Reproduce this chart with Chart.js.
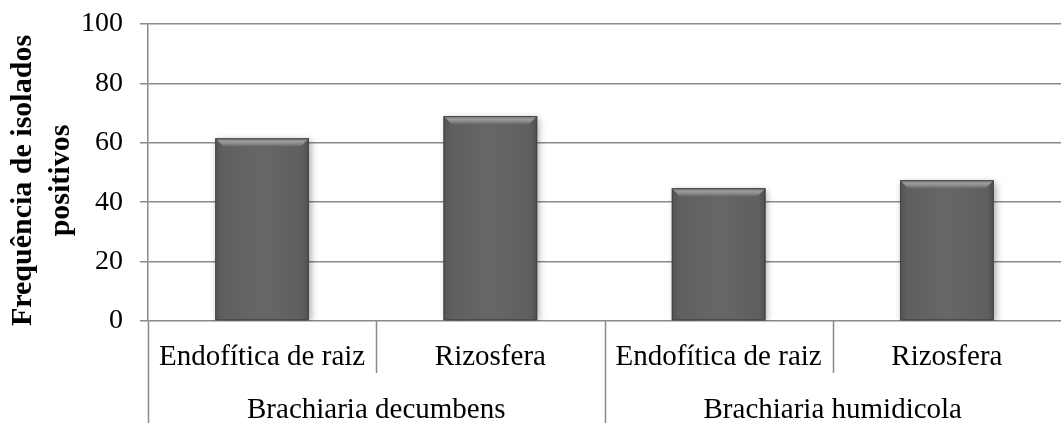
<!DOCTYPE html>
<html>
<head>
<meta charset="utf-8">
<script src="https://cdn.jsdelivr.net/npm/chart.js@4"></script>
<style>
  html, body { margin: 0; padding: 0; background: #fff; }
  #wrap { width: 1062px; height: 423px; }
</style>
</head>
<body>
<div id="wrap"><canvas id="chart"></canvas></div>
<script>
// data
const groups = ['Brachiaria decumbens', 'Brachiaria humidicola'];
const labels = ['Endofítica de raiz', 'Rizosfera', 'Endofítica de raiz', 'Rizosfera'];
const values = [61.5, 69, 44.7, 47.4];
const yTitle = ['Frequência de isolados', 'positivos'];

const SERIF = '"Liberation Serif", "Times New Roman", serif';
const GRID = '#8a8a8a';

// bevel + shading on top of the plain bars
const bevelBars = {
  id: 'bevelBars',
  beforeDatasetsDraw(chart) {
    const ctx = chart.ctx;
    ctx.save();
    ctx.shadowColor = 'rgba(0,0,0,0.35)';
    ctx.shadowBlur = 7;
    ctx.shadowOffsetX = 2;
    ctx.shadowOffsetY = 2;
  },
  afterDatasetsDraw(chart) {
    const ctx = chart.ctx;
    ctx.restore();
    const meta = chart.getDatasetMeta(0);
    meta.data.forEach(bar => {
      const { x, y, width, base } = bar.getProps(['x', 'y', 'width', 'base'], true);
      const l = x - width / 2, r = x + width / 2, h = base - y;
      const b = 8;
      ctx.save();
      // body: slightly darker toward the sides
      let g = ctx.createLinearGradient(l, 0, r, 0);
      g.addColorStop(0, '#525252');
      g.addColorStop(0.07, '#5f5f5f');
      g.addColorStop(0.5, '#676767');
      g.addColorStop(0.93, '#5f5f5f');
      g.addColorStop(1, '#4e4e4e');
      ctx.fillStyle = g;
      ctx.fillRect(l, y, width, h);
      // top bevel
      g = ctx.createLinearGradient(0, y, 0, y + b);
      g.addColorStop(0, '#7c7c7c');
      g.addColorStop(0.45, '#9c9c9c');
      g.addColorStop(1, '#6a6a6a');
      ctx.fillStyle = g;
      ctx.beginPath();
      ctx.moveTo(l, y);
      ctx.lineTo(r, y);
      ctx.lineTo(r - b, y + b);
      ctx.lineTo(l + b, y + b);
      ctx.closePath();
      ctx.fill();
      // outline
      ctx.strokeStyle = '#454545';
      ctx.lineWidth = 1;
      ctx.strokeRect(l + 0.5, y + 0.5, width - 1, h - 1);
      ctx.restore();
    });
  }
};

// two-level category axis and the rotated y title
const multiAxis = {
  id: 'multiAxis',
  afterDraw(chart) {
    const ctx = chart.ctx;
    const xs = chart.scales.x;
    const area = chart.chartArea;
    const n = labels.length;
    const px = i => xs.getPixelForValue(i);
    const half = (px(1) - px(0)) / 2;
    ctx.save();
    ctx.strokeStyle = GRID;
    ctx.lineWidth = 1.5;
    // separators
    for (let k = 0; k < n; k++) {
      const sx = Math.round(px(k) - half) + 0.5;
      const long = k % 2 === 0;
      ctx.beginPath();
      ctx.moveTo(sx, area.bottom);
      ctx.lineTo(sx, long ? chart.height : area.bottom + 52);
      ctx.stroke();
    }
    ctx.fillStyle = '#000';
    ctx.textAlign = 'center';
    ctx.textBaseline = 'middle';
    ctx.font = '29px ' + SERIF;
    labels.forEach((lab, i) => ctx.fillText(lab, px(i), area.bottom + 36));
    groups.forEach((grp, j) => ctx.fillText(grp, (px(2 * j) + px(2 * j + 1)) / 2, area.bottom + 89));
    // y title
    ctx.font = 'bold 30px ' + SERIF;
    ctx.translate(42, (area.top + area.bottom) / 2 + 8);
    ctx.rotate(-Math.PI / 2);
    ctx.fillText(yTitle[0], 0, -19);
    ctx.fillText(yTitle[1], 0, 19);
    ctx.restore();
  }
};

new Chart(document.getElementById('chart'), {
  type: 'bar',
  data: {
    labels: labels,
    datasets: [{
      data: values,
      backgroundColor: '#626262',
      borderWidth: 0,
      categoryPercentage: 1,
      barPercentage: 0.41
    }]
  },
  options: {
    responsive: true,
    maintainAspectRatio: false,
    animation: false,
    layout: { padding: { top: 24, right: 1, bottom: 102, left: 0 } },
    plugins: {
      legend: { display: false },
      tooltip: { enabled: false }
    },
    scales: {
      x: {
        ticks: { display: false },
        grid: { display: false },
        border: { display: false },
        afterFit: s => { s.height = 0; }
      },
      y: {
        min: 0,
        max: 100,
        ticks: {
          stepSize: 20,
          color: '#000',
          padding: 17,
          font: { family: SERIF, size: 28 }
        },
        grid: { color: GRID, lineWidth: 1.5, tickLength: 8 },
        border: { color: GRID, width: 1.5 },
        afterFit: s => { s.width = 148; s.paddingTop = 0; s.paddingBottom = 0; }
      }
    }
  },
  plugins: [bevelBars, multiAxis]
});
</script>
</body>
</html>
